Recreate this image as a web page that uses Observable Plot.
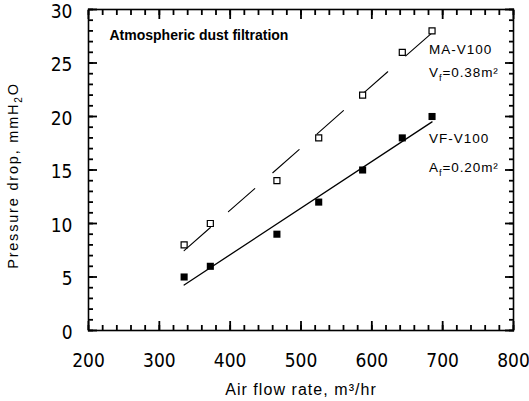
<!DOCTYPE html>
<html><head><meta charset="utf-8">
<script src="https://cdn.jsdelivr.net/npm/d3@7"></script>
<script src="https://cdn.jsdelivr.net/npm/@observablehq/plot@0.6"></script>
<style>body{margin:0;background:#fff} svg{background:#fff;color:#000}</style>
</head><body><div id="chart"></div>
<script>
// Data
const airFlow = [335, 372, 466, 525, 587, 643, 685];     // m3/hr
const maV100  = [8, 10, 14, 18, 22, 26, 28];              // mmH2O (open squares)
const vfV100  = [5, 6, 9, 12, 15, 18, 20];                // mmH2O (filled squares)
const xTicks = [200, 300, 400, 500, 600, 700, 800];
const yTicks = [0, 5, 10, 15, 20, 25, 30];
const xMinor = [200,220,240,260,280,300,320,340,360,380,400,420,440,460,480,500,520,540,560,580,600,620,640,660,680,700,720,740,760,780,800];
const yMinor = [0,1,2,3,4,5,6,7,8,9,10,11,12,13,14,15,16,17,18,19,20,21,22,23,24,25,26,27,28,29,30];
const seriesNames = ["MA-V100", "VF-V100"];
const sizeLabels = ["V_f=0.38m²", "A_f=0.20m²"];
const titleText = "Atmospheric dust filtration";
const xLabel = "Air flow rate, m³/hr";
const yLabel = "Pressure drop, mmH_2O";

const ma = airFlow.map((x, i) => ({x, y: maV100[i]}));
const vf = airFlow.map((x, i) => ({x, y: vfV100[i]}));
const maLast = [ma[ma.length - 1]];
const vfLast = [vf[vf.length - 1]];

const narrow = '"Liberation Sans Narrow","DejaVu Sans Condensed","Liberation Sans",Arial,sans-serif';
const sans = '"Liberation Sans",Arial,Helvetica,sans-serif';
const empty = () => "";
const minorLen = 5, majorLen = 9;

const tk = {tickFormat: empty, label: null, stroke: "black", strokeWidth: 1.8};

const plot = Plot.plot({
  width: 529, height: 401,
  marginLeft: 88, marginRight: 16, marginTop: 9, marginBottom: 71,
  style: {fontFamily: sans},
  x: {domain: [200, 800]},
  y: {domain: [0, 30]},
  marks: [
    Plot.frame({stroke: "black", strokeWidth: 1.6}),
    // inward ticks on all four sides (outward tick shifted inside by its own length)
    Plot.axisX(xMinor, {...tk, anchor: "bottom", tickSize: minorLen, dy: -minorLen}),
    Plot.axisX(xMinor, {...tk, anchor: "top", tickSize: minorLen, dy: minorLen}),
    Plot.axisX(xTicks, {...tk, anchor: "bottom", tickSize: majorLen, dy: -majorLen}),
    Plot.axisX(xTicks, {...tk, anchor: "top", tickSize: majorLen, dy: majorLen}),
    Plot.axisY(yMinor, {...tk, anchor: "left", tickSize: minorLen, dx: minorLen}),
    Plot.axisY(yMinor, {...tk, anchor: "right", tickSize: minorLen, dx: -minorLen}),
    Plot.axisY(yTicks, {...tk, anchor: "left", tickSize: majorLen, dx: majorLen}),
    Plot.axisY(yTicks, {...tk, anchor: "right", tickSize: majorLen, dx: -majorLen}),
    // tick labels
    Plot.axisX(xTicks, {anchor: "bottom", tickSize: 0, tickPadding: 23, fontSize: 19, fontFamily: narrow, label: null, fill: "black"}),
    Plot.axisY(yTicks, {anchor: "left", tickSize: 0, tickPadding: 16, fontSize: 19, fontFamily: narrow, label: null, dy: 2, fill: "black"}),
    // fitted lines
    Plot.linearRegressionY(ma, {x: "x", y: "y", ci: 0, stroke: "black", strokeWidth: 1.1, strokeDasharray: "35,24"}),
    Plot.linearRegressionY(vf, {x: "x", y: "y", ci: 0, stroke: "black", strokeWidth: 1.3}),
    // points
    Plot.dot(ma, {x: "x", y: "y", symbol: "square", r: 3.4, fill: "white", stroke: "black", strokeWidth: 1.2}),
    Plot.dot(vf, {x: "x", y: "y", symbol: "square", r: 4, fill: "black", stroke: "none"}),
    // annotations
    Plot.text([titleText], {frameAnchor: "top-left", text: d => d, dx: 21, dy: 26, textAnchor: "start", lineAnchor: "middle", fontSize: 14, fontWeight: 600, fill: "black"}),
    Plot.text(maLast, {x: "x", y: "y", text: () => seriesNames[0], dx: -3, dy: 18.6, textAnchor: "start", lineAnchor: "middle", fontSize: 13.5, fill: "black"}),
    Plot.text(maLast, {x: "x", y: "y", text: () => sizeLabels[0], dx: -3, dy: 42, textAnchor: "start", lineAnchor: "middle", fontSize: 13.5, fill: "black"}),
    Plot.text(vfLast, {x: "x", y: "y", text: () => seriesNames[1], dx: -3, dy: 22.5, textAnchor: "start", lineAnchor: "middle", fontSize: 13.5, fill: "black"}),
    Plot.text(vfLast, {x: "x", y: "y", text: () => sizeLabels[1], dx: -3, dy: 51.5, textAnchor: "start", lineAnchor: "middle", fontSize: 13.5, fill: "black"}),
    // axis titles
    Plot.text([xLabel], {frameAnchor: "bottom", text: d => d, dy: 59, textAnchor: "middle", lineAnchor: "middle", fontSize: 16, fill: "black"}),
    Plot.text([yLabel], {frameAnchor: "left", text: d => d, dx: -75, dy: 5.5, textAnchor: "middle", lineAnchor: "middle", rotate: -90, fontSize: 14.5, fill: "black"})
  ]
});

// letter spacing per text (Plot.text has no letterSpacing option)
const spacing = new Map([
  [seriesNames[0], 1], [seriesNames[1], 1],
  [sizeLabels[0], 0.9], [sizeLabels[1], 0.9],
  [xLabel, 1.05], [yLabel, 1.8]
]);

d3.select(plot).selectAll("text").each(function () {
  const t = this.textContent;
  const sel = d3.select(this);
  if (spacing.has(t)) sel.attr("letter-spacing", spacing.get(t));
  // Render "_x" as a subscript
  const m = t.match(/^(.*?)_(.)(.*)$/);
  if (!m) return;
  sel.text(null);
  sel.append("tspan").text(m[1]);
  sel.append("tspan").attr("dy", 4).attr("font-size", "0.7em").text(m[2]);
  sel.append("tspan").attr("dy", -4).text(m[3]);
});

document.getElementById("chart").append(plot);
</script>
</body></html>
